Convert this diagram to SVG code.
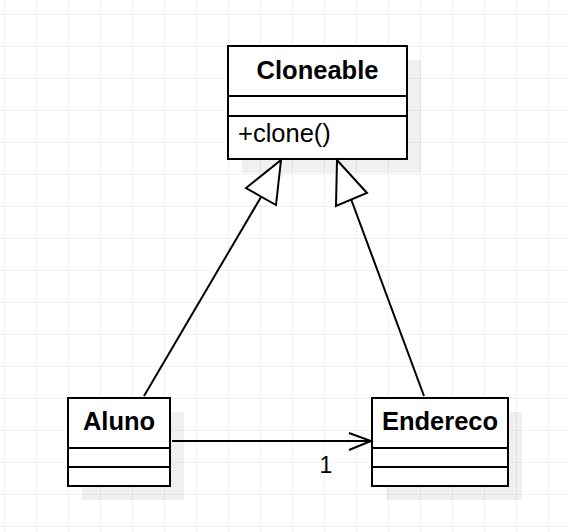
<svg xmlns="http://www.w3.org/2000/svg" width="568" height="532" viewBox="0 0 568 532">
<defs>
<pattern id="grid" x="4" y="14" width="32" height="32" patternUnits="userSpaceOnUse">
<path d="M0 0H32M0 0V32" fill="none" stroke="#e6e6e6" stroke-width="1.2"/>
</pattern>
</defs>
<style>
.box{fill:#fff;stroke:#000;stroke-width:2}
.sh{fill:#000;opacity:0.06}
.ln{fill:none;stroke:#000;stroke-width:2}
.hd{fill:#fff;stroke:#000;stroke-width:2}
.t{font-family:"Liberation Sans",Arial,sans-serif;font-size:25.5px;fill:#000}
.b{font-weight:bold}
</style>
<rect width="568" height="532" fill="#fff"/>
<rect width="568" height="532" fill="url(#grid)"/>
<g id="Cloneable">
<rect class="sh" x="242" y="60" width="179" height="113"/>
<rect class="box" x="228" y="46" width="179" height="113"/>
<path class="ln" d="M228 96H407M228 116H407"/>
<text class="t b" x="317.5" y="79" text-anchor="middle">Cloneable</text>
<text class="t" x="238" y="142">+clone()</text>
</g>
<g id="Aluno">
<rect class="sh" x="82" y="412" width="102" height="88"/>
<rect class="box" x="68" y="398" width="102" height="88"/>
<path class="ln" d="M68 448H170M68 467H170"/>
<text class="t b" x="119" y="430" text-anchor="middle">Aluno</text>
</g>
<g id="Endereco">
<rect class="sh" x="386" y="412" width="136" height="88"/>
<rect class="box" x="372" y="398" width="136" height="88"/>
<path class="ln" d="M372 448H508M372 467H508"/>
<text class="t b" x="440" y="430" text-anchor="middle">Endereco</text>
</g>
<g id="connectors">
<path class="ln" d="M144 396L261 197"/>
<path class="hd" d="M281 160L246 188L276 205Z"/>
<path class="ln" d="M424 396L351 199"/>
<path class="hd" d="M337 160L336 206L367 193Z"/>
<path class="ln" d="M172 441H370"/>
<path class="ln" d="M349 433L371 441L349 450"/>
<text class="t" x="326" y="473" text-anchor="middle" style="font-size:23px">1</text>
</g>
</svg>
